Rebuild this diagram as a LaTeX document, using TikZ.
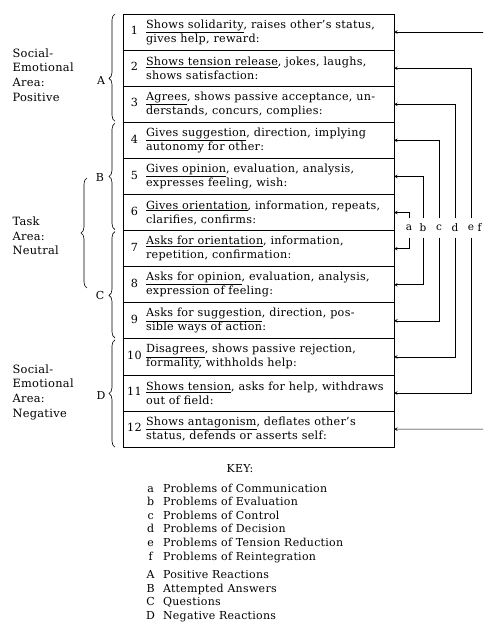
\documentclass[tikz,border=0pt]{standalone}
\usepackage{fontspec}
\setmainfont{DejaVu Serif}[LetterSpace=2.5]
\usetikzlibrary{arrows, positioning, calc, decorations.pathreplacing}

\newcommand{\catrow}[3]{\makebox[23pt]{#1}\parbox[c]{248pt}{\raggedright #2\\#3}}

\begin{document}
\begin{tikzpicture}[x=1pt, y=-1pt]
    \tikzstyle{cat} = [rectangle, draw=black, line width=0.9pt, outer sep=0pt, minimum width=271pt, minimum height=36.1pt, inner sep=0pt, font=\fontsize{11.2}{14}\selectfont]
    \tikzstyle{arrow} = [->, >=stealth, line width=0.6pt]
    \tikzstyle{brace} = [decorate, line width=0.6pt]
    \tikzstyle{area} = [align=left, anchor=west, font=\fontsize{11.4}{14.7}\selectfont]
    \tikzstyle{grp} = [font=\fontsize{11}{12}\selectfont]
    \tikzstyle{prob} = [inner sep=1pt, minimum height=19pt, font=\fontsize{10.5}{12}\selectfont]

    \clip (0,0) rectangle (483,625);

    % the twelve categories
    \node[cat] (r1) at (258.5,32.05) {\catrow{1}{\underline{Shows solidarity}, raises other's status,}{gives help, reward:}};
    \node[cat, below=0pt of r1] (r2) {\catrow{2}{\underline{Shows tension release}, jokes, laughs,}{shows satisfaction:}};
    \node[cat, below=0pt of r2] (r3) {\catrow{3}{\underline{Agrees}, shows passive acceptance, un-}{derstands, concurs, complies:}};
    \node[cat, below=0pt of r3] (r4) {\catrow{4}{\underline{Gives suggestion}, direction, implying}{autonomy for other:}};
    \node[cat, below=0pt of r4] (r5) {\catrow{5}{\underline{Gives opinion}, evaluation, analysis,}{expresses feeling, wish:}};
    \node[cat, below=0pt of r5] (r6) {\catrow{6}{\underline{Gives orientation}, information, repeats,}{clarifies, confirms:}};
    \node[cat, below=0pt of r6] (r7) {\catrow{7}{\underline{Asks for orientation}, information,}{repetition, confirmation:}};
    \node[cat, below=0pt of r7] (r8) {\catrow{8}{\underline{Asks for opinion}, evaluation, analysis,}{expression of feeling:}};
    \node[cat, below=0pt of r8] (r9) {\catrow{9}{\underline{Asks for suggestion}, direction, pos-}{sible ways of action:}};
    \node[cat, below=0pt of r9] (r10) {\catrow{10}{\underline{Disagrees}, shows passive rejection,}{formality, withholds help:}};
    \node[cat, below=0pt of r10] (r11) {\catrow{11}{\underline{Shows tension}, asks for help, withdraws}{out of field:}};
    \node[cat, below=0pt of r11] (r12) {\catrow{12}{\underline{Shows antagonism}, deflates other's}{status, defends or asserts self:}};

    % problem pairs on the right
    \node[prob] (pa) at (409,228) {a};
    \node[prob] (pb) at (423,228) {b};
    \node[prob] (pc) at (439,228) {c};
    \node[prob] (pd) at (455,228) {d};
    \node[prob] (pe) at (471,228) {e};
    \node[prob] (pf) at (479.5,228) {f};
    \coordinate (fr1) at (490,32.05);
    \coordinate (fr12) at (490,429.15);

    \draw[arrow] (pa) |- (r6.east);
    \draw[arrow] (pa) |- (r7.east);
    \draw[arrow] (pb) |- (r5.east);
    \draw[arrow] (pb) |- (r8.east);
    \draw[arrow] (pc) |- (r4.east);
    \draw[arrow] (pc) |- (r9.east);
    \draw[arrow] (pd) |- (r3.east);
    \draw[arrow] (pd) |- (r10.east);
    \draw[arrow] (pe) |- (r2.east);
    \draw[arrow] (pe) |- (r11.east);
    \draw[arrow] (fr1) -- (r1.east);
    \draw[arrow] (fr12) -- (r12.east);

    % groups on the left
    \draw[brace, decoration={brace, amplitude=6pt, aspect=0.4}] ($(r3.south west)+(-8,-1)$) -- ($(r1.north west)+(-8,0)$);
    \draw[brace, decoration={brace, amplitude=6pt}] ($(r6.south west)+(-8,-1)$) -- ($(r4.north west)+(-8,1)$);
    \draw[brace, decoration={brace, amplitude=6pt, aspect=0.4}] ($(r9.south west)+(-8,-1)$) -- ($(r7.north west)+(-8,1)$);
    \draw[brace, decoration={brace, amplitude=6pt}] ($(r12.south west)+(-8,0)$) -- ($(r10.north west)+(-8,1)$);
    \draw[brace, decoration={brace, amplitude=6pt}] (87,288) -- (87,178);

    \node[grp] (gA) at (101,80) {A};
    \node[grp] (gB) at (100,177) {B};
    \node[grp] (gC) at (100,295) {C};
    \node[grp] (gD) at (101,395) {D};

    \node[area] (pos) at (9,75) {Social-\\Emotional\\Area:\\Positive};
    \node[area] (task) at (9,236) {Task\\Area:\\Neutral};
    \node[area] (neg) at (9,392) {Social-\\Emotional\\Area:\\Negative};

    % key
    \node[font=\fontsize{11}{14}\selectfont] (keyhead) at (240,469) {KEY:};
    \node[anchor=base west, inner sep=0pt, font=\fontsize{11}{13.6}\selectfont] (keylist) at (146,492) {%
        \begin{tabular}[t]{@{}c@{\hspace{8pt}}l@{}}
        a & Problems of Communication\\
        b & Problems of Evaluation\\
        c & Problems of Control\\
        d & Problems of Decision\\
        e & Problems of Tension Reduction\\
        f & Problems of Reintegration\\[5pt]
        A & Positive Reactions\\
        B & Attempted Answers\\
        C & Questions\\
        D & Negative Reactions
        \end{tabular}};
\end{tikzpicture}
\end{document}
